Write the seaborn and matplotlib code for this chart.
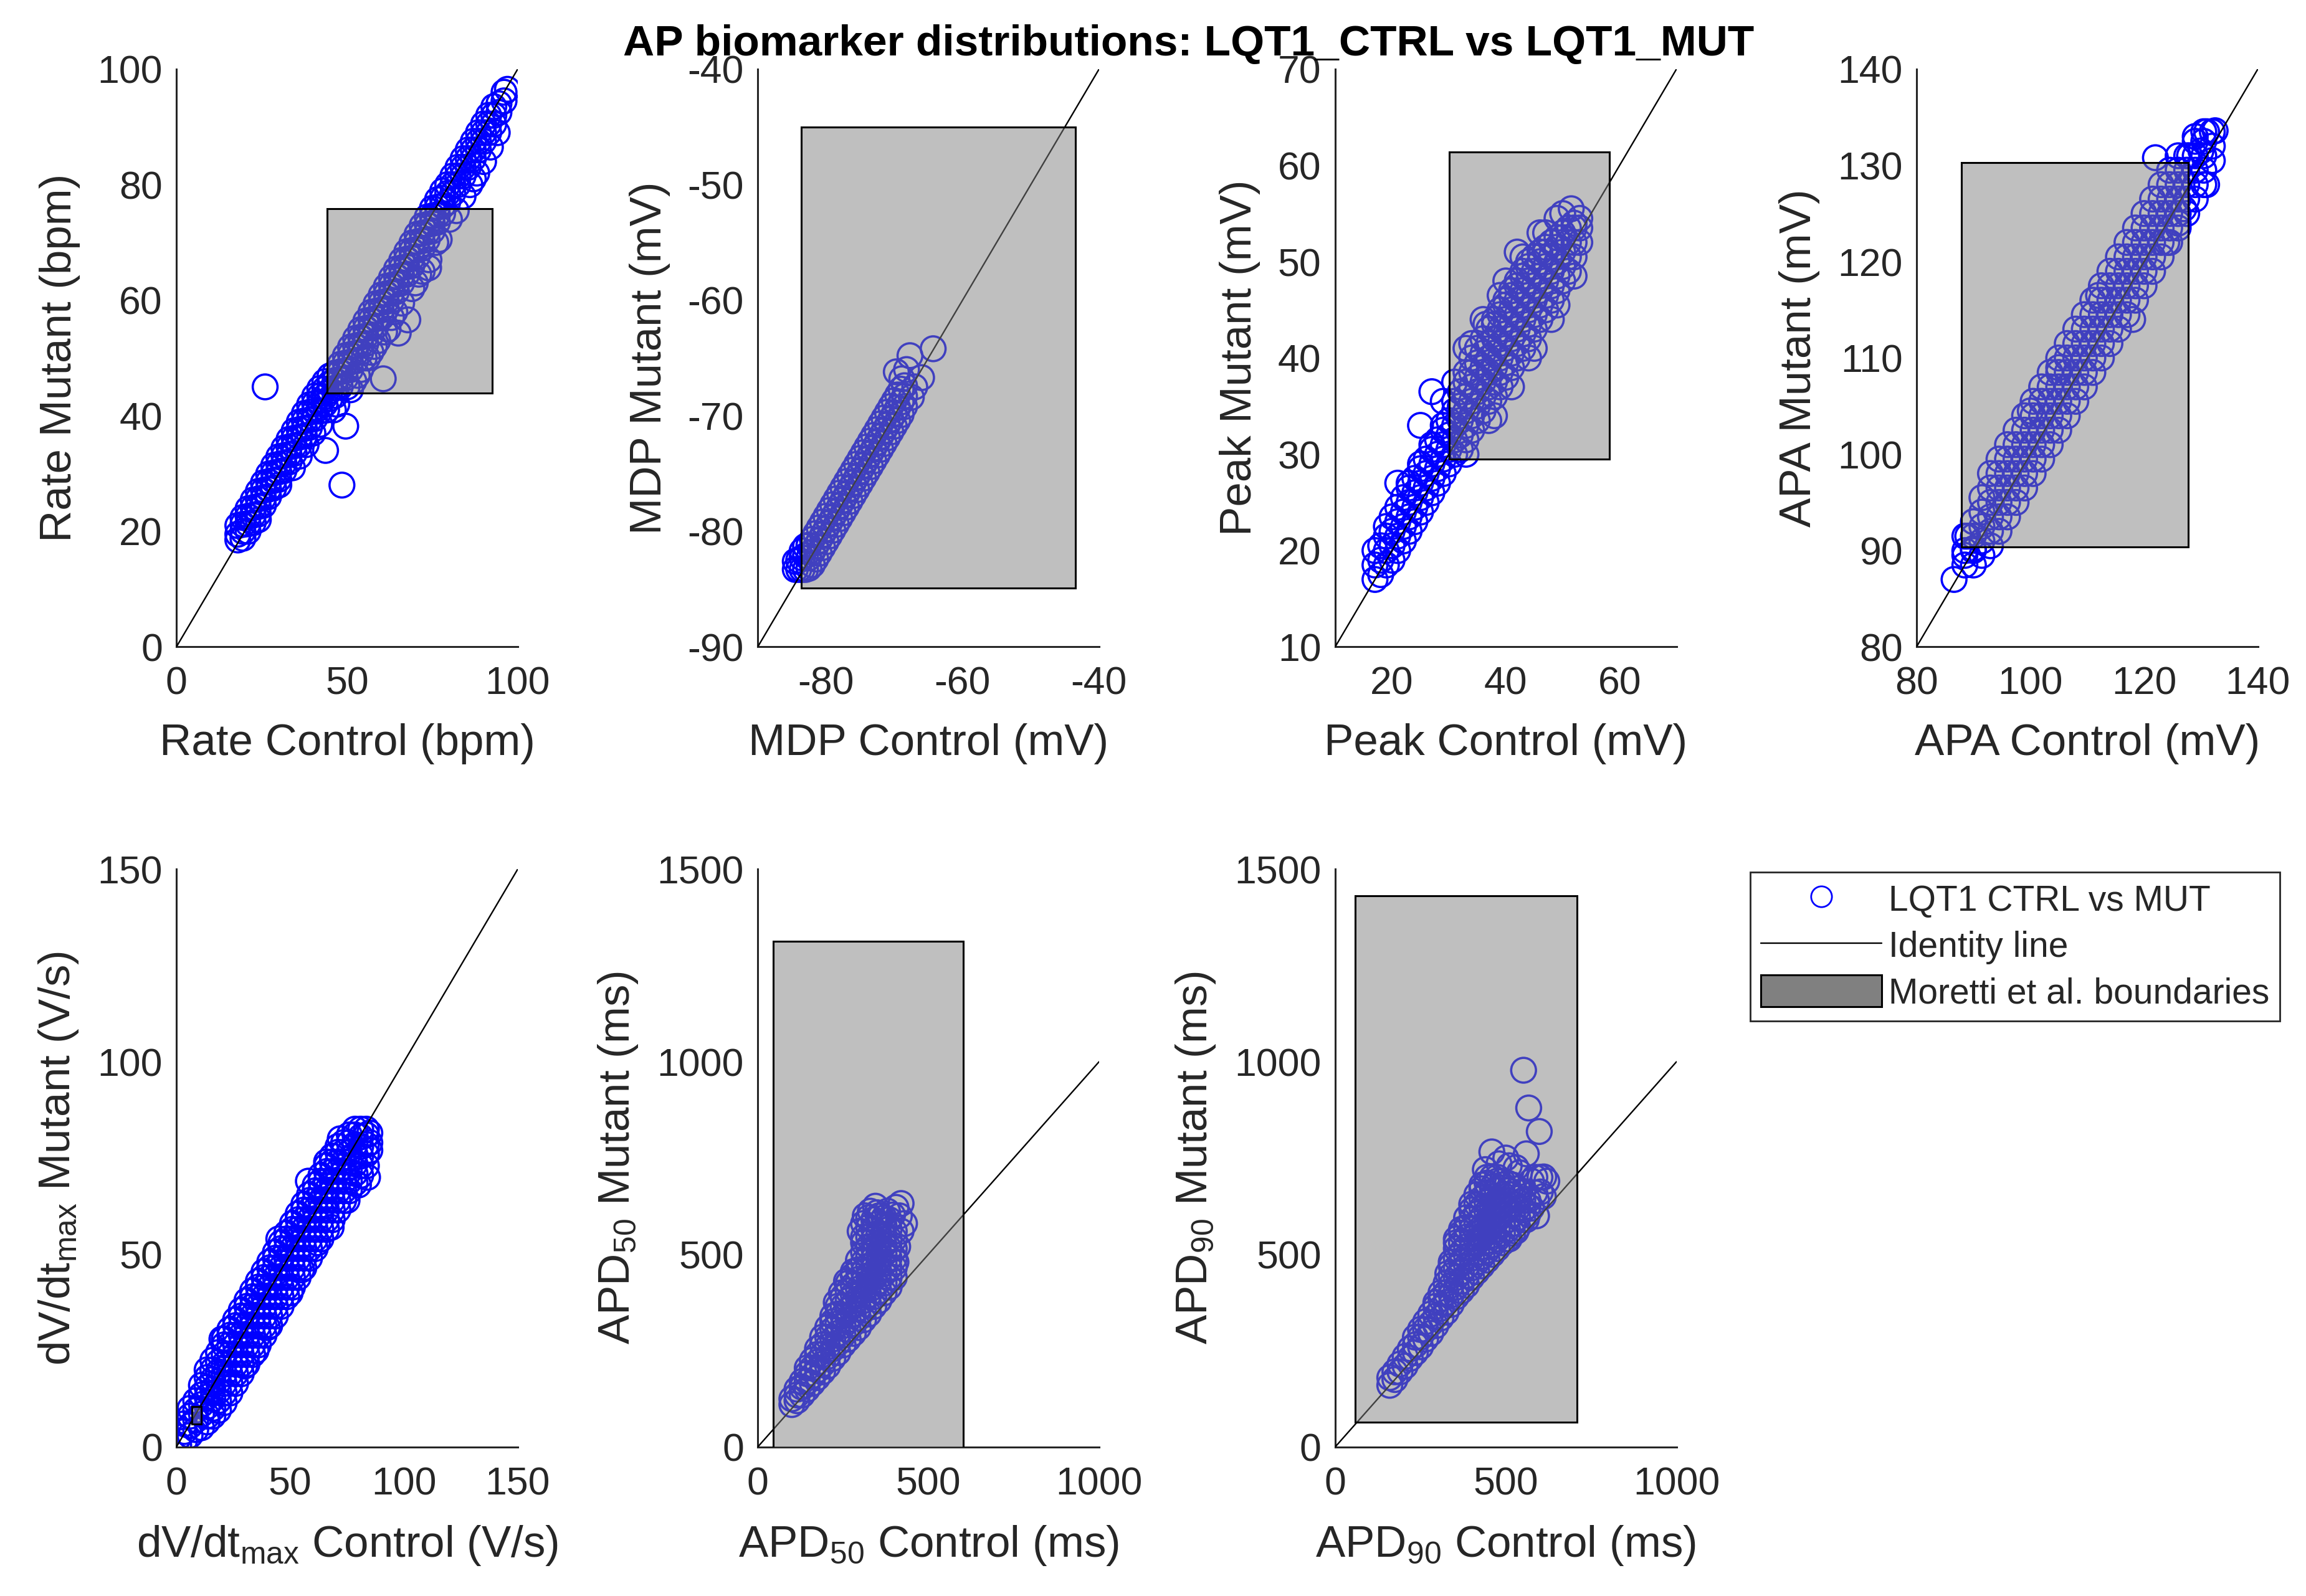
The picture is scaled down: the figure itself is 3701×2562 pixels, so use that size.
import matplotlib
matplotlib.use("Agg")
import matplotlib.pyplot as plt
import matplotlib.patches as mpatches
from matplotlib.lines import Line2D
import seaborn as sns

# ==================================
# values
# each panel: columns of (control, [mutant values]) plus loose points
# ==================================

rate_cols = [
    (18, [18.5, 19.5, 21]), (19.5, [18.8, 20, 21.2, 22.4]), (21, [20, 21.3, 22.6, 23.9]),
    (22.5, [21.5, 22.8, 24.1, 25.4]), (24, [23, 24.3, 25.6, 26.9]), (25.5, [24.5, 25.8, 27.1, 28.4]),
    (27, [26, 27.3, 28.6, 29.9]), (28.5, [27.5, 28.8, 30.1, 31.4]), (30, [29, 30.3, 31.6, 32.9]),
    (31.5, [30.5, 31.8, 33.1, 34.4]), (33, [32, 33.3, 34.6, 35.9]), (34.5, [33.5, 34.8, 36.1, 37.4]),
    (36, [35, 36.3, 37.6, 38.9]), (37.5, [36.5, 37.8, 39.1, 40.4]), (39, [38, 39.3, 40.6, 41.9]),
    (40.5, [39.5, 40.8, 42.1, 43.4]), (42, [40.8, 42.1, 43.4, 44.7]), (43.5, [42, 43.3, 44.6, 45.9]),
    (45, [43, 44.3, 45.6, 46.9]), (46.5, [43.5, 44.8, 46.1, 47.4]), (48, [45, 46.3, 47.6, 48.9]),
    (49.5, [46.5, 47.8, 49.1, 50.4]), (51, [48, 49.3, 50.6, 51.9]), (52.5, [49.5, 50.8, 52.1, 53.4]),
    (54, [51, 52.3, 53.6, 54.9]), (55.5, [52.5, 53.8, 55.1, 56.4]), (57, [54, 55.3, 56.6, 57.9]),
    (58.5, [55.5, 56.8, 58.1, 59.4]), (60, [57, 58.3, 59.6, 60.9]), (61.5, [58.5, 59.8, 61.1, 62.4]),
    (63, [60, 61.3, 62.6, 63.9]), (64.5, [61.5, 62.8, 64.1, 65.4]), (66, [63, 64.3, 65.6, 66.9]),
    (67.5, [64.5, 65.8, 67.1, 68.4]), (69, [66, 67.3, 68.6, 69.9]), (70.5, [67.5, 68.8, 70.1, 71.4]),
    (72, [69, 70.3, 71.6, 72.9]), (73.5, [70.5, 71.8, 73.1, 74.4]), (75, [72, 73.3, 74.6, 75.9]),
    (76.5, [73.5, 74.8, 76.1, 77.4]), (78, [75, 76.3, 77.6, 78.9]), (79.5, [77, 78.5, 80]),
    (81, [78.5, 80, 81.5]), (82.5, [80, 81.5, 83]), (84, [81.5, 83, 84.5]), (85.5, [83, 84.5, 86]),
    (87, [84.5, 86, 87.5]), (88.5, [86, 87.5, 89]), (90, [87.5, 89, 90.5]), (91.5, [89, 90.5, 92]),
    (93, [90.5, 92, 93.5]), (94.5, [92.5, 94]), (96, [94.5, 96]), (97, [96.5])]
rate_extra_x = [50, 54, 57, 59, 62, 64, 70, 72, 76, 80, 84, 88, 90, 86, 36, 40, 44, 30, 24, 47,
                52, 55, 26, 48.5, 43.7, 49.6, 60.6, 65, 67.8, 73.9,
                56, 58, 61, 63, 66, 69, 71, 74, 77, 53, 51, 46, 42, 38, 34, 82, 87, 92, 94]
rate_extra_y = [45, 48, 51, 53, 55, 58, 63, 65, 70, 74, 78, 82, 84, 80, 33, 37, 41, 28, 22, 42,
                46, 50, 45, 28, 34, 38.2, 46.4, 54.3, 56.6, 65.6,
                50, 52, 54.5, 57, 59.5, 62, 64.5, 67, 70.5, 47, 44.5, 41, 38.5, 35, 31, 75.5, 81, 86.5, 89]

mdp_cols = [
    (-84.5, [-83.3, -82.6]), (-84, [-83.3, -82.5]), (-83.5, [-83.3, -82.3, -81.7]),
    (-83, [-83.3, -82.1, -81.3]), (-82.5, [-83.2, -82.3, -81.2]), (-82, [-82.9, -81.8, -80.7]),
    (-81.5, [-82.4, -81.3, -80.2]), (-81, [-81.9, -80.8, -79.7]), (-80.5, [-81.4, -80.3, -79.2]),
    (-80, [-80.9, -79.8, -78.7]), (-79.5, [-80.4, -79.3, -78.2]), (-79, [-79.9, -78.8, -77.7]),
    (-78.5, [-79.4, -78.3, -77.2]), (-78, [-78.9, -77.8, -76.7]), (-77.5, [-78.4, -77.3, -76.2]),
    (-77, [-77.9, -76.8, -75.7]), (-76.5, [-77.4, -76.3, -75.2]), (-76, [-76.9, -75.8, -74.7]),
    (-75.5, [-76.4, -75.3, -74.2]), (-75, [-75.9, -74.8, -73.7]), (-74.5, [-75.4, -74.3, -73.2]),
    (-74, [-74.9, -73.8, -72.7]), (-73.5, [-74.4, -73.3, -72.2]), (-73, [-73.9, -72.8, -71.7]),
    (-72.5, [-73.4, -72.3, -71.2]), (-72, [-72.9, -71.8, -70.7]), (-71.5, [-72.4, -71.3, -70.2]),
    (-71, [-71.9, -70.8, -69.7]), (-70.5, [-71.4, -70.3, -69.2]), (-70, [-70.9, -69.8, -68.7]),
    (-69.5, [-70.4, -69.3, -68.2]), (-69, [-69.9, -68.8, -67.7]), (-68.5, [-69.2, -68.3, -67.4])]
mdp_extra_x = [-64.3, -67.7, -68.2, -69.7, -66.0, -67.0, -68.9, -67.5]
mdp_extra_y = [-64.2, -64.8, -66.0, -66.2, -66.7, -67.5, -66.8, -68.4]

peak_cols = [
    (17, [17, 18.5, 20]), (18, [17.5, 19, 20.5]), (19, [18.5, 20, 21.5, 22.5]),
    (20, [19, 20.5, 22, 23.5]), (21, [20, 21.5, 23, 24.5]), (22, [21, 22.5, 24, 25.5]),
    (23, [22, 23.5, 25, 26.5, 27]), (24, [23, 24.5, 26, 27.5]), (25, [24, 25.5, 27, 28.5, 29]),
    (26, [25, 26.5, 28, 29.5]), (27, [26, 27.5, 29, 30.5, 31]), (28, [27, 28.5, 30, 31.5]),
    (29, [28, 29.5, 31, 32.5, 33]), (30, [29, 30.5, 32, 33.5]), (31, [30, 31.5, 33, 34.5, 35.5]),
    (32, [30.5, 32, 33.5, 35, 36.5]), (33, [31.5, 33, 34.5, 36, 37.5, 38.5]),
    (34, [32.5, 34, 35.5, 37, 38.5, 40]), (35, [33.5, 35, 36.5, 38, 39.5, 41]),
    (36, [34.5, 36, 37.5, 39, 40.5, 42]), (37, [35.5, 37, 38.5, 40, 41.5, 43]),
    (38, [36, 37.5, 39, 40.5, 42, 43.5, 44]), (39, [37, 38.5, 40, 41.5, 43, 44.5, 45]),
    (40, [38, 39.5, 41, 42.5, 44, 45.5, 46]), (41, [39, 40.5, 42, 43.5, 45, 46.5, 47]),
    (42, [40, 41.5, 43, 44.5, 46, 47.5, 48]), (43, [41, 42.5, 44, 45.5, 47, 48.5, 49]),
    (44, [42, 43.5, 45, 46.5, 48, 49.5, 50]), (45, [43, 44.5, 46, 47.5, 49, 50.5]),
    (46, [44, 45.5, 47, 48.5, 50, 51]), (47, [45, 46.5, 48, 49.5, 51, 51.5]),
    (48, [46, 47.5, 49, 50.5, 52]), (49, [47, 48.5, 50, 51.5, 52.5]), (50, [48, 49.5, 51, 52.5, 53]),
    (51, [49, 50.5, 52, 53.5]), (52, [50.5, 52, 53.5, 54]), (53, [52, 53.5, 54.5])]
peak_extra_x = [27, 25, 21, 29, 33, 36, 40, 42, 46, 50, 51.5, 44, 38, 48,
                31, 34, 36.5, 39, 43, 47, 49, 33, 37, 41, 45, 49, 52]
peak_extra_y = [36.5, 33, 27, 35.5, 41, 44, 48, 51, 53, 55, 55.5, 40, 34, 44,
                37.5, 41.5, 43.5, 46.5, 50.5, 53, 54.5, 30, 33.5, 37, 41, 45.5, 48.5]

apa_cols = [
    (88.5, [88.5, 90, 91.5]), (90, [88.5, 90, 91.5, 93]), (91.5, [89.5, 91, 92.5, 94, 95.5]),
    (93, [90.5, 92, 93.5, 95, 96.5, 98]), (94.5, [92, 93.5, 95, 96.5, 98, 99.5]),
    (96, [93.5, 95, 96.5, 98, 99.5, 101]), (97.5, [95, 96.5, 98, 99.5, 101, 102.5]),
    (99, [96.5, 98, 99.5, 101, 102.5, 104]), (100.5, [98, 99.5, 101, 102.5, 104, 105.5]),
    (102, [99.5, 101, 102.5, 104, 105.5, 107]), (103.5, [101, 102.5, 104, 105.5, 107, 108.5]),
    (105, [102.5, 104, 105.5, 107, 108.5, 110]), (106.5, [104, 105.5, 107, 108.5, 110, 111.5]),
    (108, [105.5, 107, 108.5, 110, 111.5, 113]), (109.5, [107, 108.5, 110, 111.5, 113, 114.5]),
    (111, [108.5, 110, 111.5, 113, 114.5, 116]), (112.5, [110, 111.5, 113, 114.5, 116, 117.5]),
    (114, [111.5, 113, 114.5, 116, 117.5, 119]), (115.5, [113, 114.5, 116, 117.5, 119, 120.5]),
    (117, [114.5, 116, 117.5, 119, 120.5, 122]), (118.5, [116, 117.5, 119, 120.5, 122, 123.5]),
    (120, [117.5, 119, 120.5, 122, 123.5, 125]), (121.5, [119, 120.5, 122, 123.5, 125, 126.5]),
    (123, [120.5, 122, 123.5, 125, 126.5, 128]), (124.5, [122, 123.5, 125, 126.5, 128, 129.5]),
    (126, [123.5, 125, 126.5, 128, 129.5, 131]), (127.5, [125, 126.5, 128, 129.5, 131]),
    (129, [126.5, 128, 129.5, 131, 132.5]), (130.5, [128, 129.5, 131, 132.5, 133.5]),
    (132, [130.5, 132, 133.5])]
apa_extra_x = [86.6, 88.5, 89, 90, 129, 131, 132.5, 130, 128, 122, 131, 127, 126, 124, 112, 100, 105, 118]
apa_extra_y = [87, 89.5, 91.5, 90.2, 133, 133.5, 133.6, 131.5, 131, 130.8, 128, 125.5, 124, 122,
               116.5, 104.5, 109, 114]

dvdt_cols = [
    (1, [0.5, 2.5]), (3.5, [1.5, 4, 6]), (6, [3, 5.5, 8, 10]), (8.5, [4.5, 7, 9.5, 12]),
    (11, [5, 8.5, 11, 13.5, 16]), (13.5, [6.5, 8, 10.5, 13, 15.5, 18, 20]),
    (16, [8, 10, 12.5, 15, 17.5, 20, 22.5]), (18.5, [9.5, 12, 14.5, 17, 19.5, 22, 24.5]),
    (21, [11.5, 14, 16.5, 19, 21.5, 24, 26.5, 28]), (23.5, [14, 16.5, 19, 21.5, 24, 26.5, 29, 30.5]),
    (26, [16.5, 19, 21.5, 24, 26.5, 29, 31.5, 33]), (28.5, [19, 21.5, 24, 26.5, 29, 31.5, 34, 35.5]),
    (31, [21.5, 24, 26.5, 29, 31.5, 34, 36.5, 38]), (33.5, [24, 26.5, 29, 31.5, 34, 36.5, 39, 40.5]),
    (36, [26.5, 29, 31.5, 34, 36.5, 39, 41.5, 43]), (38.5, [29, 31.5, 34, 36.5, 39, 41.5, 44, 45.5]),
    (41, [31.5, 34, 36.5, 39, 41.5, 44, 46.5, 48]), (43.5, [34, 36.5, 39, 41.5, 44, 46.5, 49, 50.5]),
    (46, [36.5, 39, 41.5, 44, 46.5, 49, 51.5, 53]), (48.5, [39, 41.5, 44, 46.5, 49, 51.5, 54, 55.5]),
    (51, [41.5, 44, 46.5, 49, 51.5, 54, 56.5, 58]), (53.5, [44, 46.5, 49, 51.5, 54, 56.5, 59, 60.5]),
    (56, [46.5, 49, 51.5, 54, 56.5, 59, 61.5, 63]), (58.5, [49, 51.5, 54, 56.5, 59, 61.5, 64, 65.5]),
    (61, [51.5, 54, 56.5, 59, 61.5, 64, 66.5, 68]), (63.5, [54, 56.5, 59, 61.5, 64, 66.5, 69, 70.5]),
    (66, [56.5, 59, 61.5, 64, 66.5, 69, 71.5, 73]), (68.5, [59, 61.5, 64, 66.5, 69, 71.5, 74, 75.5]),
    (71, [61.5, 64, 66.5, 69, 71.5, 74, 76.5, 78]), (73.5, [64, 66.5, 69, 71.5, 74, 76.5, 79]),
    (76, [66.5, 69, 71.5, 74, 76.5, 79, 81]), (78.5, [68.5, 71, 73.5, 76, 78.5, 81, 82.5]),
    (81, [70.5, 73, 75.5, 78, 80.5, 82.5]), (83.5, [73, 76, 78.5, 81, 82.5]), (85, [77, 79, 81.5])]
dvdt_extra_x = [80, 84, 75, 62, 55, 40, 30, 45, 58, 20, 72, 66, 50, 35, 68]
dvdt_extra_y = [68, 70, 64, 53, 46, 31, 21, 54, 69, 28, 80, 74, 40, 25, 57]

apd50_cols = [
    (100, [110, 125]), (115, [120, 135, 150]), (130, [135, 155, 170]), (145, [150, 170, 190, 205]),
    (160, [165, 185, 205, 225]), (175, [180, 200, 220, 240, 255]), (190, [195, 215, 240, 265, 285]),
    (205, [210, 235, 260, 285, 310]), (220, [230, 255, 280, 305, 325, 340]),
    (235, [245, 270, 295, 320, 345, 365]), (250, [265, 290, 315, 340, 365, 390]),
    (265, [280, 305, 330, 355, 380, 405, 425]), (280, [295, 320, 345, 370, 395, 420, 445, 455]),
    (295, [310, 335, 360, 385, 410, 435, 460, 485]),
    (310, [330, 355, 380, 405, 430, 455, 480, 505, 530, 545]),
    (325, [345, 370, 395, 420, 445, 470, 495, 520, 545, 570, 595]),
    (340, [365, 390, 415, 440, 465, 490, 515, 540, 565, 590]),
    (355, [380, 405, 430, 455, 480, 505, 530, 555, 580, 600]),
    (370, [400, 425, 450, 475, 500, 525, 550, 575, 595]),
    (385, [415, 440, 465, 490, 515, 540, 565, 590]), (400, [440, 465, 490, 515, 540, 560])]
apd50_extra_x = [300, 315, 330, 350, 380, 405, 420, 360, 395, 345, 310,
                 415, 430, 420, 410, 405, 260, 245, 230]
apd50_extra_y = [560, 600, 612, 608, 612, 622, 632, 600, 602, 625, 580,
                 600, 580, 560, 520, 480, 430, 400, 375]

apd90_cols = [
    (160, [160, 180]), (175, [175, 195]), (190, [195, 215]), (205, [210, 235]), (220, [230, 255]),
    (235, [245, 265, 285]), (250, [260, 285, 305]), (265, [280, 305, 325]), (280, [295, 320, 345]),
    (295, [315, 340, 365, 375]), (310, [335, 360, 385, 400]), (325, [350, 375, 400, 425]),
    (340, [370, 395, 420, 445, 470]), (355, [390, 415, 440, 465, 490, 515, 530]),
    (370, [405, 430, 455, 480, 505, 530, 555, 565]),
    (385, [420, 445, 470, 495, 520, 545, 570, 595]),
    (400, [440, 465, 490, 515, 540, 565, 590, 615, 630]),
    (415, [455, 480, 505, 530, 555, 580, 605, 630, 655]),
    (430, [470, 495, 520, 545, 570, 595, 620, 645, 670, 680]),
    (445, [485, 510, 535, 560, 585, 610, 635, 660, 685, 700]),
    (460, [500, 525, 550, 575, 600, 625, 650, 675, 700]),
    (475, [515, 540, 565, 590, 615, 640, 665, 690, 700]),
    (490, [530, 555, 580, 605, 630, 655, 680, 690]),
    (505, [540, 565, 590, 615, 640, 665, 685]), (520, [555, 580, 605, 630, 655, 680]),
    (535, [570, 595, 620, 645, 670]), (550, [590, 615, 640, 660]), (565, [605, 625, 640])]
apd90_extra_x = [459, 552, 567, 598, 560, 611, 601, 480, 510, 530, 575, 590, 440, 500, 585, 540,
                 590, 610, 620, 575, 560, 600, 585, 530, 510, 340, 355, 330]
apd90_extra_y = [766, 978, 880, 819, 761, 701, 662, 735, 730, 725, 690, 640, 720, 750, 700, 712,
                 600, 650, 690, 620, 590, 700, 660, 560, 540, 480, 540, 450]

# Moretti et al. boundaries [xmin, xmax, ymin, ymax]
rate_box = [44.2, 92.5, 43.9, 75.8]
mdp_box = [-83.6, -43.5, -84.9, -45.0]
peak_box = [30.1, 58.2, 29.5, 61.4]
apa_box = [87.9, 127.8, 90.4, 130.3]
dvdt_box = [6.7, 11.0, 6.0, 10.4]
apd50_box = [45, 603, -10, 1313]
apd90_box = [58, 708, 65, 1431]

title = "AP biomarker distributions: LQT1_CTRL vs LQT1_MUT"
legend_labels = ["LQT1 CTRL vs MUT", "Identity line", "Moretti et al. boundaries"]


def flatten(cols, ex, ey):
    xs, ys = [], []
    for c, ms in cols:
        for m in ms:
            xs.append(c)
            ys.append(m)
    return xs + ex, ys + ey


dv = r"dV/dt$_{\mathregular{max}}$"
panels = [
    dict(cols=rate_cols, ex=rate_extra_x, ey=rate_extra_y, box=rate_box, lim=(0, 100), ylim=(0, 100),
         xt=[0, 50, 100], yt=[0, 20, 40, 60, 80, 100], xl="Rate Control (bpm)", yl="Rate Mutant (bpm)"),
    dict(cols=mdp_cols, ex=mdp_extra_x, ey=mdp_extra_y, box=mdp_box, lim=(-90, -40), ylim=(-90, -40),
         xt=[-80, -60, -40], yt=[-90, -80, -70, -60, -50, -40], xl="MDP Control (mV)", yl="MDP Mutant (mV)"),
    dict(cols=peak_cols, ex=peak_extra_x, ey=peak_extra_y, box=peak_box, lim=(10, 70), ylim=(10, 70),
         xt=[20, 40, 60], yt=[10, 20, 30, 40, 50, 60, 70], xl="Peak Control (mV)", yl="Peak Mutant (mV)"),
    dict(cols=apa_cols, ex=apa_extra_x, ey=apa_extra_y, box=apa_box, lim=(80, 140), ylim=(80, 140),
         xt=[80, 100, 120, 140], yt=[80, 90, 100, 110, 120, 130, 140], xl="APA Control (mV)", yl="APA Mutant (mV)"),
    dict(cols=dvdt_cols, ex=dvdt_extra_x, ey=dvdt_extra_y, box=dvdt_box, lim=(0, 150), ylim=(0, 150),
         xt=[0, 50, 100, 150], yt=[0, 50, 100, 150], xl=dv + " Control (V/s)", yl=dv + " Mutant (V/s)"),
    dict(cols=apd50_cols, ex=apd50_extra_x, ey=apd50_extra_y, box=apd50_box, lim=(0, 1000), ylim=(0, 1500),
         xt=[0, 500, 1000], yt=[0, 500, 1000, 1500],
         xl=r"APD$_{\mathregular{50}}$ Control (ms)", yl=r"APD$_{\mathregular{50}}$ Mutant (ms)"),
    dict(cols=apd90_cols, ex=apd90_extra_x, ey=apd90_extra_y, box=apd90_box, lim=(0, 1000), ylim=(0, 1500),
         xt=[0, 500, 1000], yt=[0, 500, 1000, 1500],
         xl=r"APD$_{\mathregular{90}}$ Control (ms)", yl=r"APD$_{\mathregular{90}}$ Mutant (ms)"),
]

sns.set_style("white")
plt.rcParams["font.family"] = ["Liberation Sans", "DejaVu Sans"]
plt.rcParams["axes.unicode_minus"] = False
ink = "#262626"

fig = plt.figure(figsize=(3701 / 200, 2562 / 200), dpi=200)

lefts = [0.0765, 0.3286, 0.5790, 0.8311]
bottoms = [0.5947, 0.0934]
w, h = 0.148, 0.362

for i, p in enumerate(panels):
    ax = fig.add_axes([lefts[i % 4], bottoms[i // 4], w, h])
    xs, ys = flatten(p["cols"], p["ex"], p["ey"])
    sns.scatterplot(x=xs, y=ys, ax=ax, marker="o", s=205, facecolor="none",
                    edgecolor="blue", linewidth=1.3, zorder=2)
    lo, hi = p["lim"]
    ax.plot([lo, hi], [lo, hi], color="k", lw=0.85, zorder=3)
    bx = p["box"]
    ax.add_patch(mpatches.Rectangle((bx[0], bx[2]), bx[1] - bx[0], bx[3] - bx[2],
                                    facecolor=(0.5, 0.5, 0.5, 0.5), edgecolor="k", lw=1.1, zorder=4))
    ax.set_xlim(p["lim"])
    ax.set_ylim(p["ylim"])
    ax.set_xticks(p["xt"])
    ax.set_yticks(p["yt"])
    ax.set_xlabel(p["xl"], fontsize=25.5, color=ink, labelpad=12)
    ax.set_ylabel(p["yl"], fontsize=25.5, color=ink, labelpad=10)
    ax.tick_params(direction="in", length=4.3, width=1.0, colors=ink, labelsize=22.5)
    ax.tick_params(axis="x", pad=11)
    ax.tick_params(axis="y", pad=8)
    for s in ["top", "right"]:
        ax.spines[s].set_visible(False)
    for s in ["left", "bottom"]:
        ax.spines[s].set_color(ink)
        ax.spines[s].set_linewidth(1.1)

fig.text(0.5153, 0.9723, title, ha="center", va="center", fontsize=25, weight="bold", color="k")

handles = [Line2D([], [], ls="none", marker="o", mfc="none", mec="blue", ms=12, mew=1.0),
           Line2D([], [], color="k", lw=0.85),
           mpatches.Patch(facecolor="0.5", edgecolor="k", lw=1.1)]
leg = fig.legend(handles, legend_labels, loc="upper left", bbox_to_anchor=(0.759, 0.4536),
                 fontsize=20.5, frameon=True, fancybox=False, edgecolor=ink, framealpha=1,
                 handlelength=3.4, handleheight=1.0, handletextpad=0.2, labelspacing=0.3,
                 borderpad=0.3, borderaxespad=0)
leg.get_frame().set_linewidth(1.0)

fig.savefig("out.png", dpi=200)
